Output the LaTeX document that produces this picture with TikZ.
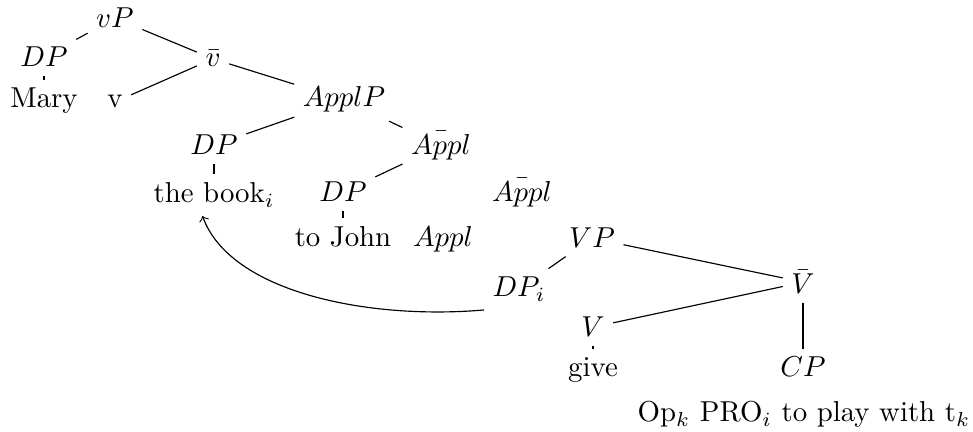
\documentclass[tikz,border=0pt]{standalone}
\begin{document}
\begin{tikzpicture}[x=0.347pt,y=-0.347pt,
	every node/.style={anchor=base,inner sep=2.8pt},
	ast/.style={draw=black}]
\useasboundingbox (0,0) rectangle (973,432);
%vP oben
	\node (vp) at (115,28) {$vP$};
	\node (dpm) at (44,67) {$DP$};
	\node (mary) at (44,108) {Mary};
	\node (vk) at (115,108) {v};
	\node (vbar) at (213,67) {$\bar{v}$};
%ApplP
	\node (applp) at (344,107) {$ApplP$};
	\node (dpb) at (214,155) {$DP$};
	\node (book) at (214,203) {the book$_i$};
	\node (applbara) at (441,155) {$\bar{Appl}$};
	\node (dpj) at (343,202) {$DP$};
	\node (john) at (343,247) {to John};
	\node (applbarb) at (522,202) {$\bar{Appl}$};
	\node (appl) at (443,247) {$Appl$};
%VP unten
	\node (vvp) at (592,248) {$VP$};
	\node (dpi) at (519,297) {$DP_i$};
	\node (vvbar) at (803,294) {$\bar{V}$};
	\node (vv) at (593,337) {$V$};
	\node (give) at (593,377) {give};
	\node (cp) at (803,377) {$CP$};
	\node (op) at (804,422) {Op$_k$ PRO$_i$ to play with t$_k$};
%Kanten
	\draw[ast] (vp) -- (dpm);
	\draw[ast] (vp) -- (vbar);
	\draw[ast] (dpm) -- (mary);
	\draw[ast] (vbar) -- (vk);
	\draw[ast] (vbar) -- (applp);
	\draw[ast] (applp) -- (dpb);
	\draw[ast] (applp) -- (applbara);
	\draw[ast] (dpb) -- (book);
	\draw[ast] (applbara) -- (dpj);
	\draw[ast] (dpj) -- (john);
	\draw[ast] (vvp) -- (dpi);
	\draw[ast] (vvp) -- (vvbar);
	\draw[ast] (vvbar) -- (vv);
	\draw[ast] (vvbar) -- (cp);
	\draw[ast] (vv) -- (give);
%Bewegung
	\draw[->] (dpi.south west) to[out=185,in=-70,in looseness=0.7]
		([xshift=-4pt]book.south);
\end{tikzpicture}
\end{document}
